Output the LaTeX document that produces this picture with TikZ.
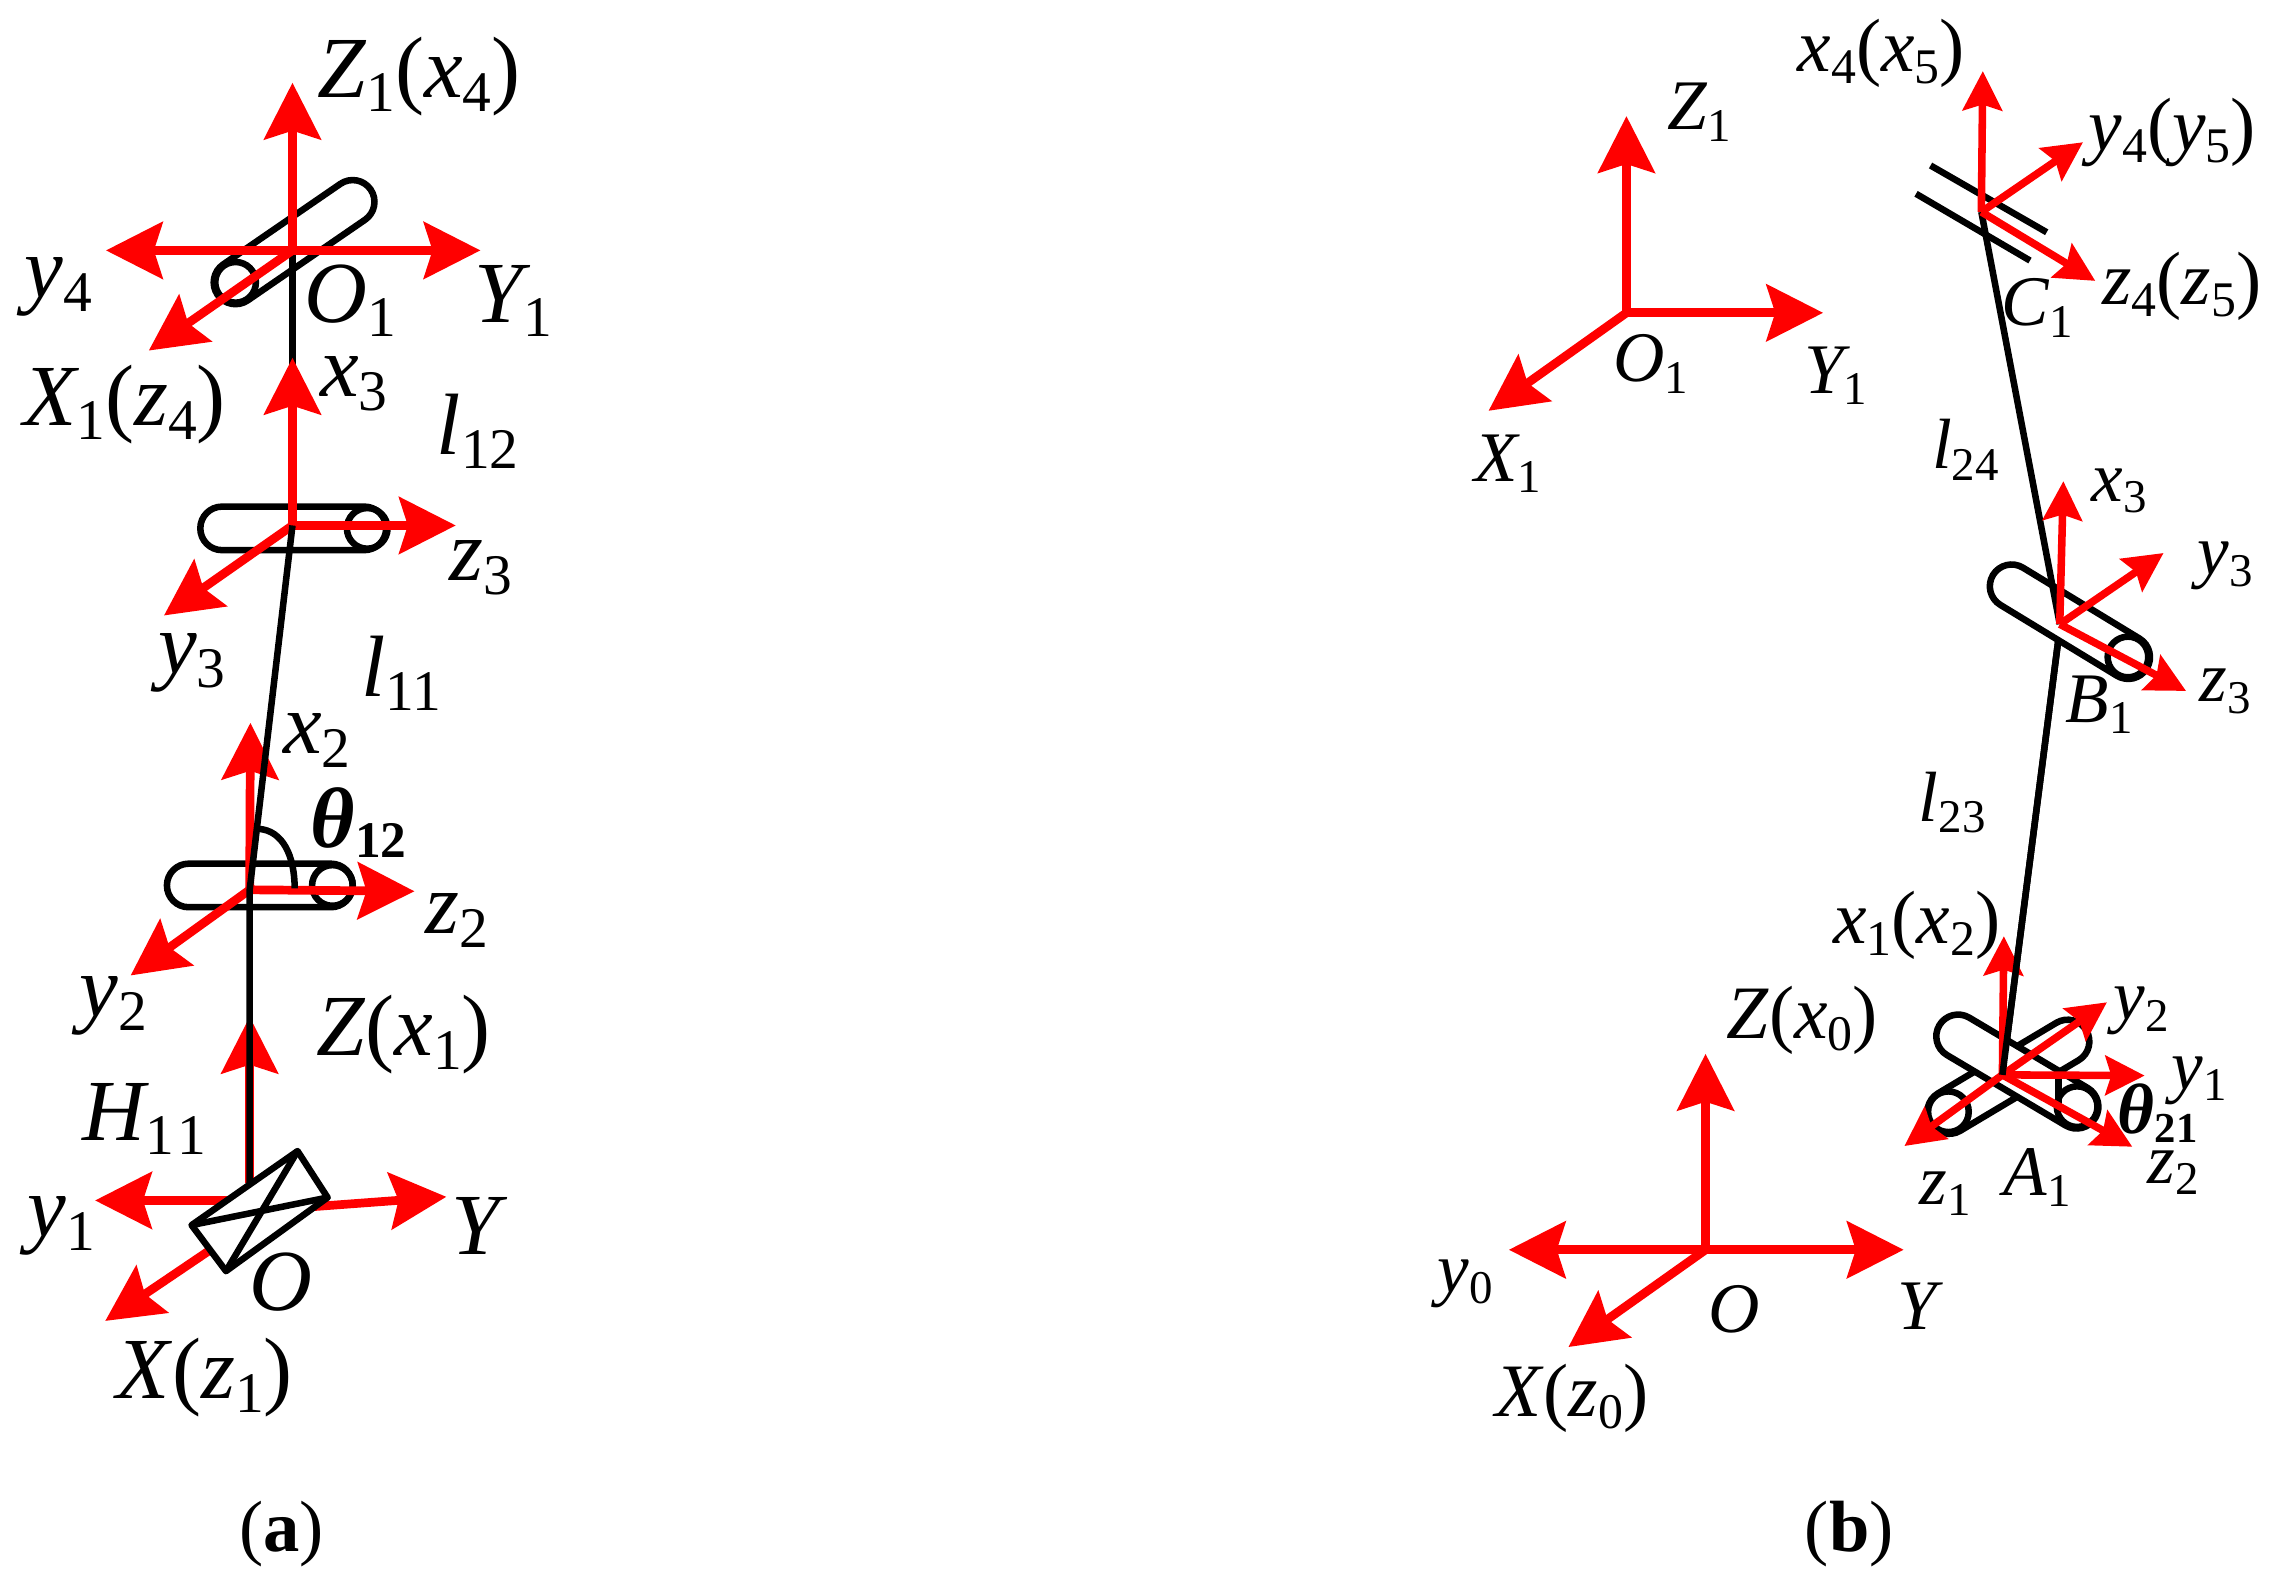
\documentclass[tikz,border=0pt]{standalone}
\usepackage{fontspec}
\setmainfont{Liberation Serif}
\usetikzlibrary{arrows.meta,shapes.misc}
\newcommand{\sbs}[1]{\raisebox{-0.16em}{\scalebox{.66}{\upshape #1}}}
\newcommand{\bsb}[1]{\raisebox{-0.12em}{\scalebox{.6}{\upshape\bfseries #1}}}
\newcommand{\lpar}{\textup{(}}
\newcommand{\rpar}{\textup{)}}
\tikzset{
  lbl/.style={anchor=base west,inner sep=0pt,outer sep=0pt},
  la/.style={lbl,font=\fontsize{60}{60}\selectfont\itshape},
  lb/.style={lbl,font=\fontsize{49}{49}\selectfont\itshape},
  lc/.style={lbl,font=\fontsize{52}{52}\selectfont\itshape},
  panelcap/.style={anchor=base,inner sep=0pt,outer sep=0pt,font=\fontsize{50}{50}\selectfont},
  axlg/.style={draw=red,line width=6pt,-{Stealth[length=39pt,width=39pt,inset=6pt]}},
  axsm/.style={draw=red,line width=5.2pt,-{Stealth[length=27pt,width=27pt,inset=4pt]}},
  link/.style={draw=black,line width=4.5pt},
  tube/.style={draw=black,line width=4.5pt,fill=white,rounded rectangle,inner sep=0pt,outer sep=0pt,minimum height=30pt},
  ring/.style={draw=black,line width=4.5pt,circle,inner sep=0pt,outer sep=0pt,minimum size=28pt},
}
\begin{document}
\begin{tikzpicture}[x=1pt,y=-1pt]
\useasboundingbox (0,0) rectangle (1568,1093.3);
\fill[white] (0,0) rectangle (1568,1093.3);
% ---------- panel (a) coordinates
\coordinate (aO1) at (201.5,172.5);
\coordinate (aZ1) at (201.5,57);
\coordinate (aY1) at (331,172.5);
\coordinate (ay4) at (73,172.5);
\coordinate (aX1) at (102.5,241.5);
\coordinate (aB) at (201.5,362);
\coordinate (ax3) at (201.5,246.5);
\coordinate (az3) at (314,362);
\coordinate (ay3) at (113,424);
\coordinate (aA) at (172,613);
\coordinate (ax2) at (172.5,498);
\coordinate (az2) at (285.5,614);
\coordinate (ay2) at (90,672);
\coordinate (aO) at (172,815);
\coordinate (aZ) at (172,700.5);
\coordinate (aC) at (179,834);
\coordinate (ay1) at (65.5,827);
\coordinate (ay1s) at (172,827);
\coordinate (aY) at (307.5,824.5);
\coordinate (aX) at (72.5,910);
\coordinate (aXs) at (179,838);
% tubes (a)
\node[tube,minimum width=128pt,rotate=34.5] (at1) at (202.6,166.8) {};
\node[ring] (ar1) at (162.3,194.5) {};
\node[tube,minimum width=128pt] (at2) at (202,364) {};
\node[ring] (ar2) at (253,364) {};
\node[tube,minimum width=128pt] (at3) at (179,610) {};
\node[ring] (ar3) at (229,610) {};
\draw[link] (aO1) -- (aB);
% red axes (a)
\draw[axlg] (aO1) -- (aZ1);
\draw[axlg] (aO1) -- (aY1);
\draw[axlg] (aO1) -- (ay4);
\draw[axlg] (aO1) -- (aX1);
\draw[axlg] (aB) -- (ax3);
\draw[axlg] (aB) -- (az3);
\draw[axlg] (aB) -- (ay3);
\draw[axlg] (aA) -- (ax2);
\draw[axlg] (aA) -- (az2);
\draw[axlg] (aA) -- (ay2);
\draw[axlg] (aO) -- (aZ);
\draw[axlg] (ay1s) -- (ay1);
\draw[axlg] (aC) -- (aY);
\draw[axlg] (aXs) -- (aX);
\draw[link] (aB) -- (aA) -- (aO);
\draw[link] (203,612) .. controls (203,590) and (195,572) .. (178,571);
% prismatic joint (a)
\filldraw[link,fill=white,line join=round] (132,844) -- (205,793) -- (225.7,825) -- (155.7,875.7) -- cycle;
\draw[link] (132,844) -- (225.7,825);
\draw[link] (205,793) -- (155.7,875.7);
% labels (a)
\node[la] (tZ1a) at (219,67) {Z\sbs{1}\lpar x\sbs{4}\rpar};
\node[la] (ty4a) at (17,205) {y\sbs{4}};
\node[la] (tO1a) at (210,222) {O\sbs{1}};
\node[la] (tY1a) at (327,222) {Y\sbs{1}};
\node[la] (tX1a) at (16,293) {X\sbs{1}\lpar z\sbs{4}\rpar};
\node[la] (tx3a) at (220.5,273) {x\sbs{3}};
\node[la] (tl12) at (301,313) {l\sbs{12}};
\node[la] (tz3a) at (310,400) {z\sbs{3}};
\node[la] (ty3a) at (109,464) {y\sbs{3}};
\node[la] (tl11) at (249,480) {l\sbs{11}};
\node[la] (tx2a) at (195,519) {x\sbs{2}};
\node[la,font=\fontsize{59}{59}\selectfont\bfseries\itshape] (tth12) at (214,584) {θ\bsb{12}};
\node[la] (tz2a) at (293,643) {z\sbs{2}};
\node[la] (ty2a) at (55,700) {y\sbs{2}};
\node[la] (tZa) at (218,727) {Z\lpar x\sbs{1}\rpar};
\node[la] (tH11) at (57,785.5) {H\sbs{1\kern.06em 1}};
\node[la] (ty1a) at (19,852) {y\sbs{1}};
\node[la] (tYa) at (311,864) {Y};
\node[la] (tOa) at (172,902.5) {O};
\node[la] (tXa) at (80,963.5) {X\lpar z\sbs{1}\rpar};
\node[panelcap] (capa) at (194,1069) {(\textbf{a})};
% ---------- panel (b) coordinates
\coordinate (bO1) at (1120.5,215.5);
\coordinate (bZ1) at (1120.5,80);
\coordinate (bY1) at (1256,215.5);
\coordinate (bX1) at (1025.5,283);
\coordinate (bC) at (1365,146);
\coordinate (bx4) at (1366,49);
\coordinate (by4) at (1435,98);
\coordinate (bz4) at (1443.5,193.5);
\coordinate (bB) at (1419,430);
\coordinate (bBlow) at (1418,441);
\coordinate (bx3) at (1421.5,331.5);
\coordinate (by3) at (1490.5,381);
\coordinate (bz3) at (1506,476);
\coordinate (bA) at (1379.5,740.5);
\coordinate (bx1) at (1380.5,645);
\coordinate (by1) at (1477.5,741);
\coordinate (by2) at (1451.5,690.5);
\coordinate (bz1) at (1312,789.5);
\coordinate (bz2) at (1469,790);
\coordinate (bO) at (1175,861);
\coordinate (bZ) at (1175,726);
\coordinate (bY) at (1311.5,861);
\coordinate (by0) at (1039.5,861);
\coordinate (bX) at (1080.5,928);
\coordinate (bl1s) at (1330,114);
\coordinate (bl1e) at (1410,160);
\coordinate (bl2s) at (1320,133.5);
\coordinate (bl2e) at (1398.5,179.5);
\coordinate (bth1) at (1418,736);
\coordinate (bth2) at (1418,761);
% frames O1 and O (b)
\draw[axlg] (bO1) -- (bZ1);
\draw[axlg] (bO1) -- (bY1);
\draw[axlg] (bO1) -- (bX1);
\draw[axlg] (bO) -- (bZ);
\draw[axlg] (bO) -- (bY);
\draw[axlg] (bO) -- (by0);
\draw[axlg] (bO) -- (bX);
% mechanism (b)
\draw[link] (bl1s) -- (bl1e);
\draw[link] (bl2s) -- (bl2e);
\node[tube,minimum width=124pt,rotate=-31.3] (bt3) at (1426,428.3) {};
\node[ring] (br3) at (1466,452.6) {};
\draw[link] (bC) -- (bB);
\draw[link] (bBlow) -- (bA);
\node[tube,minimum width=125pt,rotate=30.8] (bt2) at (1383.6,741.8) {};
\node[ring] (br2) at (1342.3,765.9) {};
\node[tube,minimum width=125pt,rotate=-30.7] (bt1) at (1389.8,738.2) {};
\node[ring] (br1) at (1431,762.4) {};
\draw[link] (bth1) -- (bth2);
\draw[axsm] (bC) -- (bx4);
\draw[axsm] (bC) -- (by4);
\draw[axsm] (bC) -- (bz4);
\draw[axsm] (bB) -- (bx3);
\draw[axsm] (bB) -- (by3);
\draw[axsm] (bB) -- (bz3);
\draw[axsm] (bA) -- (bx1);
\draw[axsm] (bA) -- (by1);
\draw[axsm] (bA) -- (by2);
\draw[axsm] (bA) -- (bz1);
\draw[axsm] (bA) -- (bz2);
\draw[link] (bBlow) -- (bA);
% labels (b)
\node[lb] (tZ1b) at (1149,89.5) {Z\sbs{1}};
\node[lb] (tO1b) at (1111.5,263) {O\sbs{1}};
\node[lb] (tY1b) at (1243,271) {Y\sbs{1}};
\node[lb] (tX1b) at (1015.5,331.5) {X\sbs{1}};
\node[lc] (tx4b) at (1238.5,49.5) {x\sbs{4}\lpar x\sbs{5}\rpar};
\node[lc] (ty4b) at (1439,103.5) {y\sbs{4}\lpar y\sbs{5}\rpar};
\node[lc] (tz4b) at (1448.5,210) {z\sbs{4}\lpar z\sbs{5}\rpar};
\node[lb] (tC1) at (1379,224.5) {C\sbs{1}};
\node[lb] (tl24) at (1331,323) {l\sbs{24}};
\node[lb] (tx3b) at (1441,345.5) {x\sbs{3}};
\node[lb] (ty3b) at (1514,396) {y\sbs{3}};
\node[lb] (tz3b) at (1515.5,483.5) {z\sbs{3}};
\node[lb] (tB1) at (1423,497.5) {B\sbs{1}};
\node[lb] (tl23) at (1322,566) {l\sbs{23}};
\node[lc] (tx1b) at (1263,650) {x\sbs{1}\lpar x\sbs{2}\rpar};
\node[lb] (ty2b) at (1456,702.5) {y\sbs{2}};
\node[lb] (ty1b) at (1496,750.5) {y\sbs{1}};
\node[lb,font=\fontsize{49}{49}\selectfont\bfseries\itshape] (tth21) at (1459,781) {θ\bsb{21}};
\node[lb] (tz2b) at (1479.5,815) {z\sbs{2}};
\node[lb] (tz1b) at (1322.5,829.5) {z\sbs{1}};
\node[lb] (tA1) at (1380.5,823.5) {A\sbs{1}};
\node[lc] (tZb) at (1189.5,715.5) {Z\lpar x\sbs{0}\rpar};
\node[lb] (ty0b) at (990.5,890.5) {y\sbs{0}};
\node[lb] (tOb) at (1177,918) {O};
\node[lb] (tYb) at (1307,916) {Y};
\node[lc] (tXb) at (1030,976) {X\lpar z\sbs{0}\rpar};
\node[panelcap] (capb) at (1274,1069) {(\textbf{b})};
\end{tikzpicture}
\end{document}
